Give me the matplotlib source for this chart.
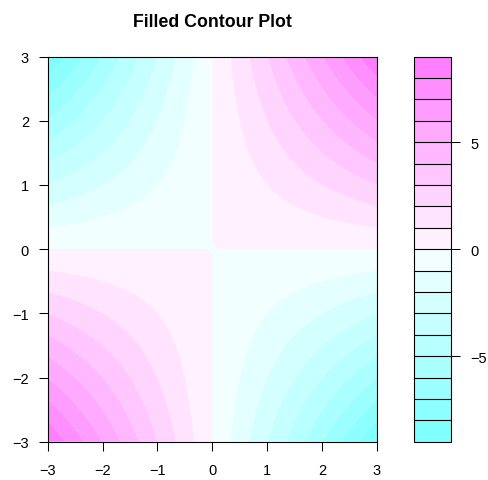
import colorsys
import numpy as np
import matplotlib
matplotlib.use("Agg")
import matplotlib.pyplot as plt

plt.rcParams['font.family'] = ['Liberation Sans', 'DejaVu Sans']
plt.rcParams['axes.unicode_minus'] = True

# grid and surface z = x * y
x = np.linspace(-3, 3, 61)
y = np.linspace(-3, 3, 61)
z = np.outer(y, x)

levels = np.arange(-9, 10, 1)
x_ticks = [-3, -2, -1, 0, 1, 2, 3]
y_ticks = [-3, -2, -1, 0, 1, 2, 3]
bar_ticks = [-5, 0, 5]


def cm_colors(n):
    # R's cm.colors palette: cyan -> white -> magenta
    k = n // 2
    even = n % 2 == 0
    l1 = k + 1 - even
    l2 = n - k + even
    cols = []
    for s in np.linspace(0.5, 0.5 / k if even else 0, l1):
        cols.append(colorsys.hsv_to_rgb(6 / 12, s, 1))
    for s in np.linspace(0, 0.5, l2)[1:]:
        cols.append(colorsys.hsv_to_rgb(10 / 12, s, 1))
    return cols


colors = cm_colors(len(levels) - 1)

fig = plt.figure(figsize=(4.88, 4.81), dpi=100)
ax = fig.add_axes([47.7 / 488, 1 - 442.7 / 481, (377 - 47.7) / 488, (442.7 - 57.5) / 481])
cax = fig.add_axes([414.3 / 488, 1 - 442.7 / 481, 37 / 488, (442.7 - 57.5) / 481])

cs = ax.contourf(x, y, z, levels=levels, colors=colors, antialiased=True)
ax.set_xlim(-3, 3)
ax.set_ylim(-3, 3)
ax.set_xticks(x_ticks)
ax.set_yticks(y_ticks)
ax.tick_params(direction='out', length=6.5, width=0.75, labelsize=10.5, color='black')
ax.tick_params(axis='x', pad=9)
ax.tick_params(axis='y', pad=7)
for sp in ax.spines.values():
    sp.set_linewidth(0.8)
ax.set_title('Filled Contour Plot', fontsize=12.8, fontweight='bold', pad=22)

cb = fig.colorbar(cs, cax=cax, drawedges=True)
cb.dividers.set_color('black')
cb.dividers.set_linewidth(0.8)
cb.outline.set_linewidth(0.8)
cb.set_ticks(bar_ticks)
cax.tick_params(direction='out', length=6.5, width=0.75, labelsize=10.5, pad=7)

fig.savefig('out.png', dpi=100)
